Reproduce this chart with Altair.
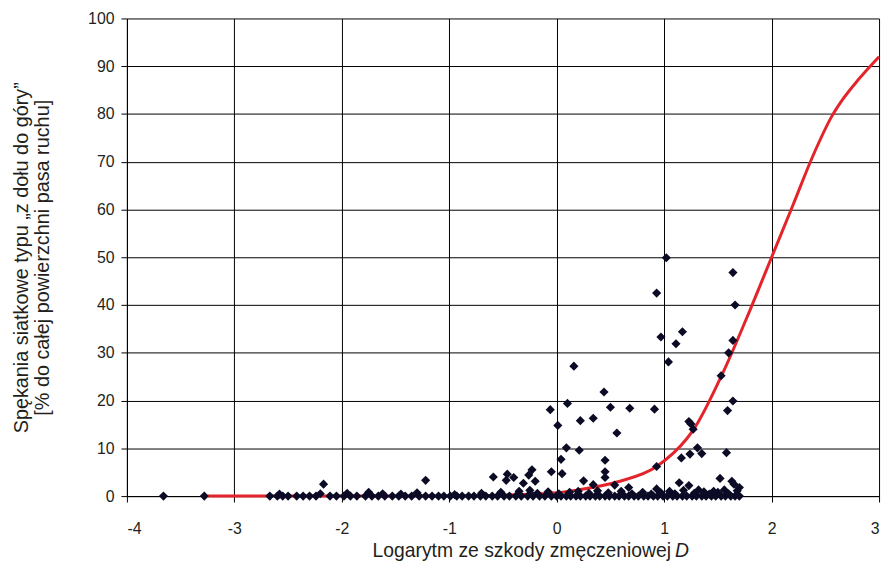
import altair as alt
import pandas as pd

# --- data ---
# points lying on/near the zero line (x = log D, y = % cracking)
zero_x = [-3.66, -3.28, -2.67, -2.60, -2.55, -2.50, -2.42, -2.36, -2.30, -2.24,
          -2.11, -2.05, -1.98, -1.92, -1.86, -1.78, -1.72, -1.66, -1.60, -1.53,
          -1.47, -1.41, -1.35, -1.28, -1.22, -1.16, -1.10, -1.05, -0.99, -0.93,
          -0.88, -0.82, -0.77, -0.71, -0.66, -0.60, -0.55, -0.49, -0.44, -0.38,
          -0.33, -0.27, -0.22, -0.16, -0.11, -0.05, 0.00, 0.04, 0.09, 0.13,
          0.18, 0.22, 0.27, 0.31, 0.36, 0.40, 0.45, 0.49, 0.54, 0.58,
          0.63, 0.67, 0.72, 0.76, 0.81, 0.85, 0.90, 0.94, 0.99, 1.03,
          1.08, 1.12, 1.17, 1.21, 1.26, 1.30, 1.35, 1.39, 1.44, 1.48,
          1.53, 1.57, 1.62, 1.66, 1.70]
zero_y = [0.0] * len(zero_x)

low_x = [-2.58, -2.20, -1.95, -1.75, -1.62, -1.45, -1.30, -0.95, -0.70, -0.52,
         -0.35, -0.25, -0.18, -0.08, 0.02, 0.12, 0.20, 0.30, 0.38, 0.48,
         0.60, 0.70, 0.80, 0.88, 0.97, 1.05, 1.10, 1.18, 1.28, 1.37,
         1.42, 1.50, 1.56, 1.60, 1.68]
low_y = [0.4, 0.5, 0.6, 0.8, 0.5, 0.4, 0.7, 0.3, 0.6, 0.8,
         1.0, 1.2, 0.6, 0.9, 0.5, 0.8, 1.0, 0.6, 1.1, 0.7,
         1.0, 0.5, 0.8, 0.4, 0.7, 1.0, 0.5, 1.2, 0.6, 0.9,
         0.4, 0.8, 1.3, 0.5, 1.1]

high_x = [-2.17, -1.22, -0.59, -0.46, -0.40, -0.47, -0.26, -0.23, -0.31, -0.20,
          0.16, 0.44, 0.50, 0.68, -0.06, 0.10, 0.01, 0.22, 0.34, 0.56,
          0.09, 0.21, 0.04, 0.45, -0.05, 0.05, 0.45, 0.45, 0.25, 0.54,
          0.34, 0.67, 1.02, 1.64, 0.93, 1.66, 0.97, 1.17, 1.11, 1.64,
          1.60, 1.04, 1.53, 0.91, 1.64, 1.59, 1.23, 1.27, 1.25, 1.31,
          1.35, 1.24, 1.16, 1.58, 0.93, 1.52, 1.63, 1.14, 1.23, 1.70,
          0.93, 1.32, 1.46, 1.65]
high_y = [2.5, 3.3, 4.0, 4.6, 3.9, 3.3, 4.4, 5.5, 2.7, 3.1,
          27.2, 21.8, 18.6, 18.4, 18.1, 19.4, 14.8, 15.8, 16.3, 13.2,
          10.1, 9.6, 7.7, 7.5, 5.1, 4.7, 5.1, 3.9, 3.2, 2.3,
          2.4, 1.8, 49.9, 46.8, 42.5, 40.0, 33.3, 34.4, 31.9, 32.6,
          30.0, 28.1, 25.2, 18.2, 19.9, 17.9, 15.6, 14.0, 15.1, 10.1,
          8.9, 8.8, 8.0, 9.1, 6.2, 3.7, 3.1, 2.8, 2.2, 1.8,
          1.5, 1.3, 1.0, 2.5]

# fitted curve (red)
curve_x = [-3.25, -2.5, -1.5, -1.0, -0.5, 0.0, 0.17, 0.57, 0.93, 1.21,
           1.27, 1.53, 1.8, 2.0, 2.2, 2.38, 2.56, 2.66, 2.8, 3.0]
curve_y = [0.0, 0.0, 0.0, 0.05, 0.2, 0.7, 1.2, 3.0, 6.2, 12.0,
           13.8, 25.0, 39.0, 50.0, 61.0, 71.0, 79.5, 83.0, 87.0, 92.0]

x_ticks = [-4, -3, -2, -1, 0, 1, 2, 3]
y_ticks = [0, 10, 20, 30, 40, 50, 60, 70, 80, 90, 100]

y_title = ["Spękania siatkowe typu „z dołu do góry”",
           "[% do całej powierzchni pasa ruchu]"]
x_title_main = "Logarytm ze szkody zmęczeniowej"
x_title_var = "D"

FONT = "Liberation Sans"
TXT = "#231f20"

pts = pd.DataFrame({"x": zero_x + low_x + high_x, "y": zero_y + low_y + high_y})
crv = pd.DataFrame({"x": curve_x, "y": curve_y})

xs = alt.Scale(domain=[-4, 3], nice=False, zero=False)
ys = alt.Scale(domain=[0, 100], nice=False)

xax = alt.Axis(values=x_ticks, title=None, tickSize=6, labelPadding=19,
               grid=True, labelExpr="'' + datum.value")
yax = alt.Axis(values=y_ticks, title=y_title, tickSize=6, labelPadding=7,
               grid=True, titleX=-116, titleY=241, titleAngle=-90,
               titleAlign="center", titleBaseline="top", titleLineHeight=21,
               titleFontSize=20, titleFont=FONT, titleColor=TXT,
               titleFontWeight="normal")

curve = alt.Chart(crv).mark_line(color="#e3242b", strokeWidth=3,
                                 interpolate="monotone").encode(
    x=alt.X("x:Q", scale=xs, axis=xax),
    y=alt.Y("y:Q", scale=ys, axis=yax),
)

points = alt.Chart(pts).mark_point(shape="diamond", filled=True, size=85,
                                   color="#0b0b26", opacity=1).encode(
    x=alt.X("x:Q", scale=xs),
    y=alt.Y("y:Q", scale=ys),
)

one = pd.DataFrame({"a": [0]})
t1 = alt.Chart(one).mark_text(align="right", baseline="alphabetic", fontSize=19.5,
                              font=FONT, color=TXT).encode(
    x=alt.value(549), y=alt.value(543), text=alt.value(x_title_main))
t2 = alt.Chart(one).mark_text(align="left", baseline="alphabetic", fontSize=19.5,
                              font=FONT, color=TXT, fontStyle="italic").encode(
    x=alt.value(553), y=alt.value(543), text=alt.value(x_title_var))

chart = alt.layer(curve, points, t1, t2).properties(
    width=759, height=482,
    padding={"left": 120, "top": 8, "right": 6, "bottom": 70},
    autosize="none",
).configure_view(strokeWidth=0).configure_axis(
    gridColor="black", gridOpacity=1, gridWidth=1,
    domainColor="black", domainWidth=1, tickColor="black", tickWidth=1,
    labelFont=FONT, labelFontSize=16, labelColor=TXT,
)

chart.save("out.html", embed_options={"renderer": "svg", "actions": False})
